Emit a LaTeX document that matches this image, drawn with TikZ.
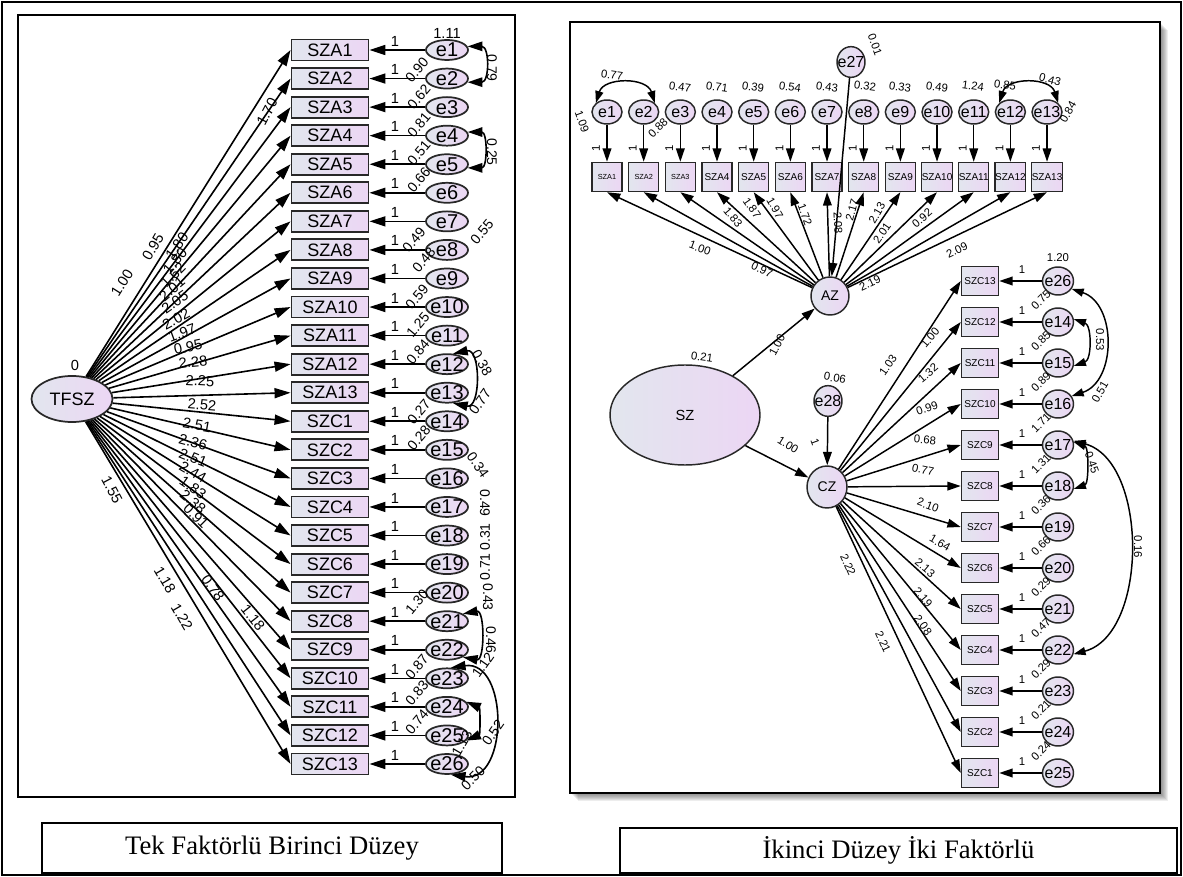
\documentclass[tikz,border=0pt]{standalone}
\usepackage{fontspec}
\setmainfont{Liberation Serif}
\setsansfont{Liberation Sans}
\usetikzlibrary{shapes.geometric,arrows.meta}
\definecolor{fillL}{RGB}{226,230,238}
\definecolor{fillR}{RGB}{236,214,244}
\definecolor{edge}{RGB}{40,40,40}
\tikzset{
  frame/.style={draw=black, line width=0.8pt},
  lbox/.style={draw=edge, line width=1.4pt, rectangle, minimum width=57.75pt, minimum height=15.75pt, inner sep=0pt, left color=fillL, right color=fillR, font=\sffamily\fontsize{13.5}{14}\selectfont},
  lerr/.style={draw=edge, line width=1.3pt, ellipse, minimum width=31.5pt, minimum height=15pt, inner sep=0pt, left color=fillL, right color=fillR},
  lerrt/.style={font=\sffamily\fontsize{15}{15}\selectfont, inner sep=0pt},
  lat/.style={draw=edge, line width=1.3pt, ellipse, inner sep=0pt, left color=fillL, right color=fillR},
  larr/.style={line width=1.2pt, -{Triangle[length=12pt,width=7.5pt]}},
  lcov/.style={line width=1.2pt, {Triangle[length=11pt,width=7pt]}-{Triangle[length=11pt,width=7pt]}},
  llab/.style={font=\sffamily\fontsize{11}{12}\selectfont, inner sep=0pt},
  lvlab/.style={font=\sffamily\fontsize{10.5}{11}\selectfont, inner sep=0pt},
  rboxA/.style={draw=edge, line width=1.1pt, rectangle, minimum width=22.5pt, minimum height=21.75pt, inner sep=0pt, left color=fillL, right color=fillR, font=\sffamily\fontsize{7.5}{8}\selectfont},
  rboxC/.style={draw=edge, line width=1.1pt, rectangle, minimum width=27.75pt, minimum height=21.75pt, inner sep=0pt, left color=fillL, right color=fillR, font=\sffamily\fontsize{7.5}{8}\selectfont},
  rerr/.style={draw=edge, line width=1.1pt, ellipse, inner sep=0pt, left color=fillL, right color=fillR},
  rerrt/.style={font=\sffamily\fontsize{12}{12}\selectfont, inner sep=0pt},
  rarr/.style={line width=1.1pt, -{Triangle[length=10pt,width=6.5pt]}},
  rcov/.style={line width=1.1pt, {Triangle[length=9pt,width=6pt]}-{Triangle[length=9pt,width=6pt]}},
  rlab/.style={font=\sffamily\fontsize{8.5}{9}\selectfont, inner sep=0pt},
  capbox/.style={draw=black, line width=0.9pt, inner sep=0pt, font=\rmfamily\fontsize{20}{22}\selectfont}
}
\begin{document}
\begin{tikzpicture}[x=0.75pt,y=-0.75pt]
\useasboundingbox (0,0) rectangle (1183,877);
\draw[frame] (2,2) rectangle (1181,875);
% ================= LEFT PANEL =================
\draw[frame] (18,15) rectangle (515,797);
\node[lat, minimum width=60.75pt, minimum height=34.5pt, font=\sffamily\fontsize{13.5}{14}\selectfont] (TFSZ) at (72,399) {TFSZ};
\foreach \i in {1,...,13}{
  \pgfmathsetmacro\yy{50+28.56*(\i-1)}
  \node[lbox] (LA\i) at (330,\yy) {SZA\i};
  \node[lerr, label={[lerrt]center:e\i}] (le\i) at (447,\yy) {};
  \draw[larr] (le\i.west) -- (LA\i.east);
  \node[llab] at (395,\yy-9) {1};
  \draw[larr] (TFSZ) -- (LA\i.west);
}
\foreach \i in {1,...,13}{
  \pgfmathsetmacro\yy{50+28.56*(\i+12)}
  \pgfmathtruncatemacro\ee{\i+13}
  \node[lbox] (LC\i) at (330,\yy) {SZC\i};
  \node[lerr, label={[lerrt]center:e\ee}] (le\ee) at (447,\yy) {};
  \draw[larr] (le\ee.west) -- (LC\i.east);
  \node[llab] at (395,\yy-9) {1};
  \draw[larr] (TFSZ) -- (LC\i.west);
}
\node[llab] at (75,365) {0};
% loadings
\foreach \tt/\px/\py/\pr in {1.00/122/283/58, 0.95/153/247/60, 1.70/267/112/62, 1.80/177/246/55, 1.80/175/261/50, 1.62/173/275/45, 2.01/172/289/40, 2.05/175/302/35, 2.02/176/319/28, 1.97/182/333/20, 0.95/188/347/12, 2.28/193/362/5, 2.25/200/381/-3, 2.52/202/405/-5, 2.51/197/425/-10, 2.36/193/442/-15, 2.51/193/458/-22, 2.44/193/472/-30, 1.83/193/488/-35, 2.38/193/502/-40, 0.91/196/516/-45, 1.55/112/490/-62, 1.18/165/580/-60, 0.78/213/588/-55, 1.18/253/618/-52, 1.22/182/617/-60}
  \node[llab, rotate=\pr] at (\px,\py) {\tt};
% error variances
\node[llab] at (447,33) {1.11};
\foreach \tt/\px/\py in {0.90/417/70, 0.62/419/97, 0.81/419/125, 0.51/419/153, 0.66/419/180, 0.49/414/240, 0.48/424/260, 0.59/417/297, 1.25/418/325, 0.84/418/352, 0.27/419/412, 0.28/419/438, 1.30/417/602, 0.87/417/667, 0.83/417/693, 0.74/417/722}
  \node[lvlab, rotate=50] at (\px,\py) {\tt};
\foreach \tt/\px/\py/\pr in {0.79/492/68/-90, 0.25/492/152/-90, 0.55/482/232/50, 0.38/482/363/-60, 0.77/480/402/55, 0.34/478/465/-55, 0.49/485/503/-90, 0.31/485/537/90, 0.71/485/567/90, 0.43/488/597/-90, 0.46/491/640/-90, 1.12/483/665/55, 0.52/493/733/55, 1.13/462/743/60, 0.50/473/778/45}
  \node[lvlab, rotate=\pr] at (\px,\py) {\tt};
% covariances
\draw[lcov] (le1.10) .. controls +(22,0) and +(22,0) .. (le2.-10);
\draw[lcov] (le4.10) .. controls +(20,0) and +(20,0) .. (le5.-10);
\draw[lcov] (le12.60) .. controls +(28,-6) and +(28,6) .. (le13.-60);
\draw[lcov] (le21.25) .. controls +(22,-4) and +(22,4) .. (le22.-25);
\draw[lcov] (le23.70) .. controls +(58,-8) and +(58,8) .. (le26.-70);
\draw[lcov] (le24.15) .. controls +(14,6) and +(14,-6) .. (le25.-15);
% ================= RIGHT PANEL =================
\foreach \k in {1,...,8} \fill[black, opacity=0.07] (570+\k,22+\k) rectangle (1160+\k,793+\k);
\draw[line width=1.6pt, fill=white] (570,22) rectangle (1160,793);
\foreach \i in {1,...,13}{
  \pgfmathsetmacro\xx{607+36.67*(\i-1)}
  \node[rerr, minimum width=22.5pt, minimum height=18pt, label={[rerrt]center:e\i}] (re\i) at (\xx,112) {};
  \ifnum\i<4
    \node[rboxA, font=\sffamily\fontsize{5.5}{6}\selectfont] (RA\i) at (\xx,177) {SZA\i};
  \else
    \node[rboxA] (RA\i) at (\xx,177) {SZA\i};
  \fi
  \draw[rarr] (re\i.south) -- (RA\i.north);
  \node[rlab, rotate=90] at (\xx-11,148) {1};
}
\node[rerr, minimum width=21pt, minimum height=23pt, label={[rerrt]center:e27}] (re27) at (851,62) {};
\node[rerr, minimum width=28.5pt, minimum height=28.5pt, font=\sffamily\fontsize{10.5}{11}\selectfont] (AZ) at (830,296) {AZ};
\node[rerr, minimum width=112.5pt, minimum height=75pt, font=\sffamily\fontsize{11}{12}\selectfont] (SZ) at (685,415) {SZ};
\node[rerr, minimum width=21pt, minimum height=23pt, label={[rerrt]center:e28}] (re28) at (828,401) {};
\node[rerr, minimum width=30pt, minimum height=31.5pt, font=\sffamily\fontsize{10.5}{11}\selectfont] (CZ) at (827,487) {CZ};
\foreach \i in {1,...,13} \draw[rarr] (AZ) -- (RA\i.south);
\draw[rarr] (re27) -- (AZ);
\draw[rarr] (SZ) -- (AZ);
\draw[rarr] (SZ) -- (CZ);
\draw[rarr] (re28) -- (CZ);
\foreach \j in {1,...,13}{
  \pgfmathsetmacro\yy{281+41*(13-\j)}
  \pgfmathtruncatemacro\ee{\j==13 ? 26 : 26-\j}
  \node[rboxC] (RC\j) at (980,\yy) {SZC\j};
  \node[rerr, minimum width=23.25pt, minimum height=21pt, label={[rerrt]center:e\ee}] (re\ee) at (1058,\yy) {};
  \draw[rarr] (re\ee.west) -- (RC\j.east);
  \node[rlab] at (1022,\yy-11) {1};
  \draw[rarr] (CZ) -- (RC\j.west);
}
% right covariances
\draw[rcov] (re1.north west) .. controls +(8,-26) and +(-8,-26) .. (re2.north east);
\draw[rcov] (re12.north west) .. controls +(8,-26) and +(-8,-26) .. (re13.north east);
\draw[rcov] (re26.-30) .. controls +(45,15) and +(45,-15) .. (re16.30);
\draw[rcov] (re14.10) .. controls +(18,6) and +(18,-6) .. (re15.-10);
\draw[rcov] (re17.10) .. controls +(15,5) and +(15,-5) .. (re18.-10);
\draw[rcov] (re17.15) .. controls +(75,20) and +(75,-20) .. (re22.-15);
% right labels
\foreach \tt/\px/\py/\pr in {0.47/680/87/-8, 0.71/717/87/-8, 0.39/753/87/-8, 0.54/790/87/-8, 0.43/827/87/-8, 0.32/865/86/-8, 0.33/900/87/-8, 0.49/937/87/-8, 1.24/973/86/-8, 0.85/1005/85/-8, 0.43/1050/80/-15, 0.77/612/75/-8, 1.09/582/122/-70, 0.88/658/128/45, 0.84/1068/112/60, 0.01/875/45/-70}
  \node[rlab, rotate=\pr] at (\px,\py) {\tt};
\foreach \tt/\px/\py/\pr in {1.00/700/248/-20, 0.97/762/270/-25, 1.83/733/217/-50, 1.87/752/208/-55, 1.97/775/208/-60, 1.72/805/215/-70, 2.08/838/223/-88, 2.17/852/210/75, 2.13/877/213/60, 2.01/882/233/55, 0.92/922/218/40, 2.09/957/250/25, 2.19/870/283/25}
  \node[rlab, rotate=\pr] at (\px,\py) {\tt};
\foreach \tt/\px/\py/\pr in {0.21/702/357/-8, 1.00/777/345/62, 1.00/788/445/-32, 0.06/835/378/-10, 1/815/442/-70}
  \node[rlab, rotate=\pr] at (\px,\py) {\tt};
\foreach \tt/\px/\py/\pr in {1.03/888/365/55, 1.00/930/338/50, 1.32/928/373/40, 0.99/927/408/20, 0.68/925/440/-5, 0.77/923/470/-12, 2.10/928/505/-20, 1.64/940/543/-30, 2.13/925/568/-40, 2.19/923/597/-50, 2.08/923/625/-55, 2.22/848/565/-65, 2.21/883/642/-65}
  \node[rlab, rotate=\pr] at (\px,\py) {\tt};
\node[rlab] at (1058,258) {1.20};
\foreach \tt/\py in {0.75/322, 0.85/363, 0.89/404, 1.71/445, 1.31/486, 0.36/527, 0.66/568, 0.29/609, 0.47/650, 0.29/691, 0.21/732, 0.24/773}
  \node[rlab, rotate=45] at (1041,\py-22) {\tt};
\foreach \tt/\px/\py/\pr in {0.53/1100/340/-90, 0.51/1100/392/60, 0.45/1092/463/-70, 0.16/1138/547/-90}
  \node[rlab, rotate=\pr] at (\px,\py) {\tt};
% ================= CAPTIONS =================
\node[capbox, minimum width=345pt, minimum height=37.5pt] (cap1) at (272,848) {Tek Faktörlü Birinci Düzey};
\node[capbox, minimum width=417.75pt, minimum height=33.75pt] (cap2) at (898.5,850.5) {İkinci Düzey İki Faktörlü};
\end{tikzpicture}
\end{document}
